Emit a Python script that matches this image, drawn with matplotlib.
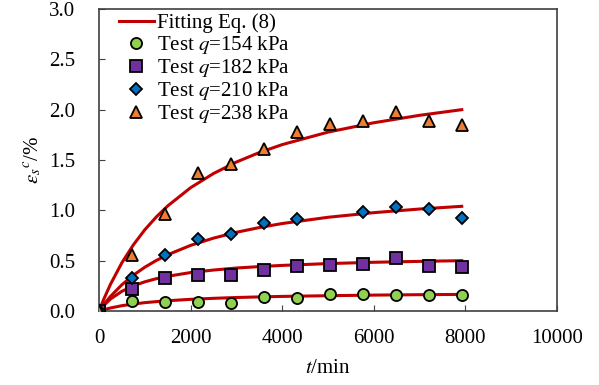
import numpy as np
import matplotlib
matplotlib.use('Agg')
import matplotlib.pyplot as plt

plt.rcParams['font.family'] = ['Liberation Serif', 'DejaVu Serif']
plt.rcParams['mathtext.fontset'] = 'stix'

# test data (time in min, strain in %)
t_test = [0, 720, 1440, 2160, 2880, 3600, 4320, 5040, 5760, 6480, 7200, 7920]
eps_154 = [0, 0.10, 0.09, 0.09, 0.076, 0.14, 0.13, 0.17, 0.17, 0.16, 0.16, 0.16]
eps_182 = [0, 0.22, 0.33, 0.36, 0.355, 0.41, 0.447, 0.457, 0.47, 0.53, 0.447, 0.437]
t_210 = [0, 720, 1440, 2160, 2880, 3600, 4320, 5760, 6480, 7200, 7920]
eps_210 = [0, 0.33, 0.56, 0.72, 0.765, 0.87, 0.91, 0.98, 1.03, 1.01, 0.92]
eps_238 = [0, 0.56, 0.96, 1.37, 1.46, 1.61, 1.78, 1.86, 1.89, 1.98, 1.89, 1.85]

# fitted curves
t_fit = [0, 100, 250, 500, 750, 1000, 1250, 1500, 2000, 2500, 3000, 3500, 4000, 5000, 6000, 7000, 7920]
fit_154 = [0, 0.013, 0.030, 0.053, 0.069, 0.083, 0.093, 0.102, 0.116, 0.126, 0.134, 0.140, 0.145, 0.152, 0.158, 0.162, 0.165]
fit_182 = [0, 0.054, 0.119, 0.196, 0.250, 0.290, 0.321, 0.345, 0.382, 0.407, 0.427, 0.441, 0.453, 0.471, 0.484, 0.493, 0.500]
fit_210 = [0, 0.062, 0.145, 0.261, 0.356, 0.435, 0.502, 0.559, 0.652, 0.724, 0.782, 0.829, 0.869, 0.931, 0.977, 1.013, 1.040]
fit_238 = [0, 0.113, 0.265, 0.480, 0.657, 0.807, 0.934, 1.044, 1.225, 1.366, 1.480, 1.574, 1.653, 1.777, 1.870, 1.944, 2.000]

fig = plt.figure(figsize=(5.99, 3.85), dpi=100)
ax = fig.add_axes([0.1653, 0.1922, 0.7646, 0.7844])

red = '#C00000'
ax.plot(t_fit, fit_238, color=red, lw=2.2, label='Fitting Eq. (8)', zorder=2)
ax.plot(t_fit, fit_210, color=red, lw=2.2, zorder=2)
ax.plot(t_fit, fit_182, color=red, lw=2.2, zorder=2)
ax.plot(t_fit, fit_154, color=red, lw=2.2, zorder=2)

mk = dict(ls='none', mec='black', mew=1.3, zorder=3)
ax.plot(t_test, eps_154, marker='o', ms=8, mfc='#92D050', label='Test $q$=154 kPa', **mk)
ax.plot(t_test, eps_182, marker='s', ms=8, mfc='#7030A0', label='Test $q$=182 kPa', **mk)
ax.plot(t_210, eps_210, marker='D', ms=6.5, mfc='#0070C0', label='Test $q$=210 kPa', **mk)
ax.plot(t_test, eps_238, marker='^', ms=8.5, mfc='#ED7D31', label='Test $q$=238 kPa', **mk)

ax.set_xlim(0, 10000)
ax.set_ylim(0, 3.0)
ax.set_xticks([0, 2000, 4000, 6000, 8000, 10000])
ax.set_yticks(np.arange(0, 3.01, 0.5))
ax.set_yticklabels(['%.1f' % v for v in np.arange(0, 3.01, 0.5)])
ax.tick_params(direction='in', labelsize=15, length=4, color='#404040')
ax.tick_params(axis='y', pad=17)
ax.tick_params(axis='x', pad=13)
for s in ax.spines.values():
    s.set_color('#404040')
    s.set_linewidth(1.2)

ax.set_xlabel(r'$t$/min', fontsize=15, labelpad=8)
ax.set_ylabel(r'$\varepsilon_{s}{}^{c}$/%', fontsize=15, labelpad=4)

ax.legend(loc='upper left', frameon=False, fontsize=15, handlelength=1.7,
          handletextpad=0.15, labelspacing=0.05, borderaxespad=0.1,
          bbox_to_anchor=(0.02, 1.02))

fig.savefig('out.png', dpi=100)
